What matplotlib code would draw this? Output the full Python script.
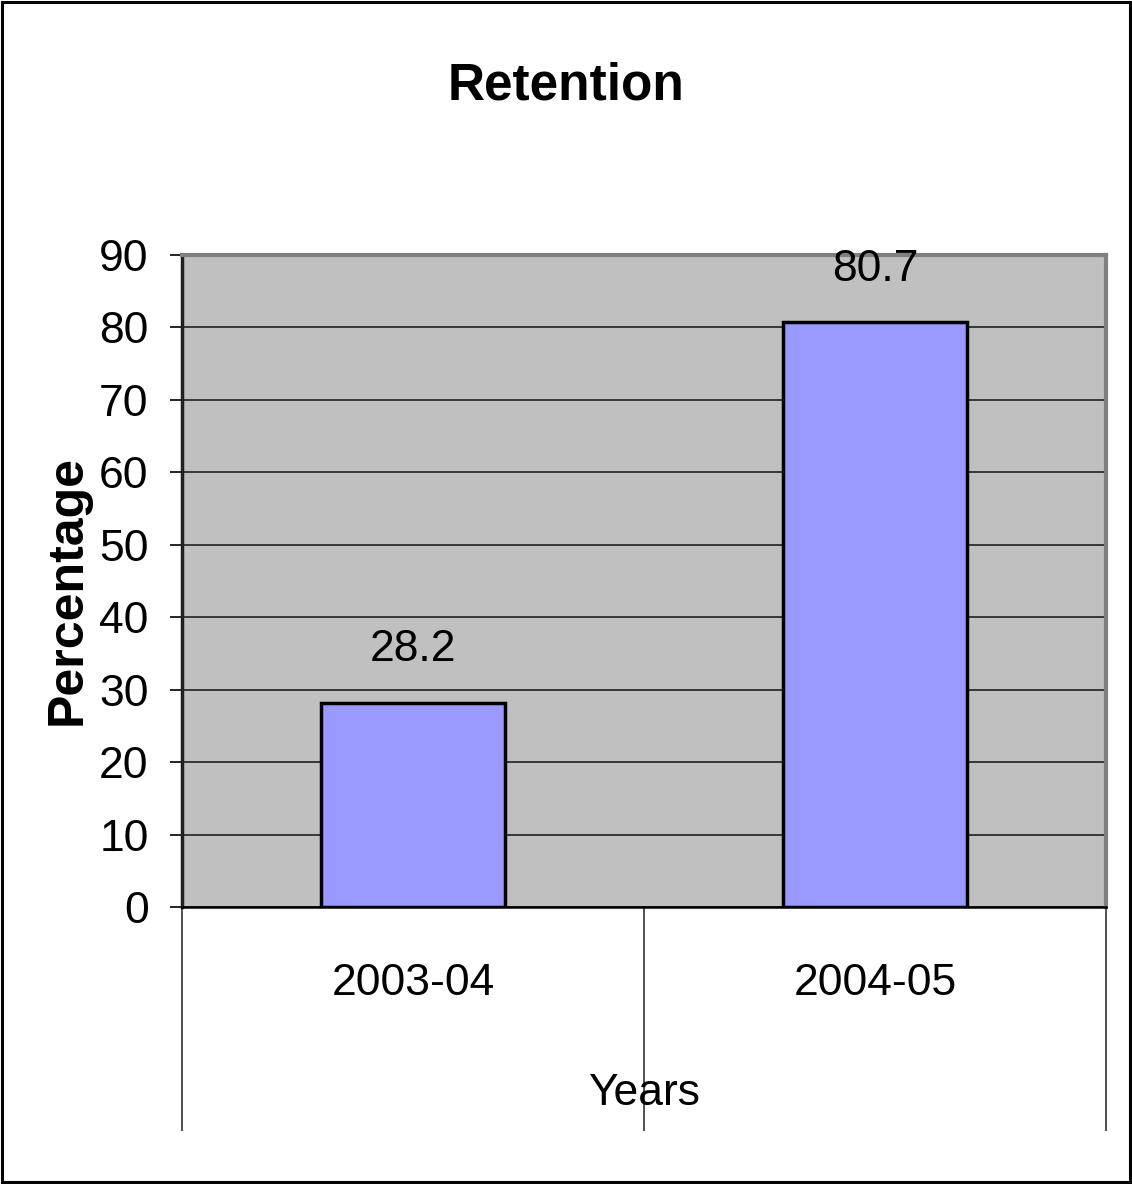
import matplotlib
matplotlib.use("Agg")
import matplotlib.pyplot as plt
from matplotlib.patches import Rectangle

# Data
years = ["2003-04", "2004-05"]
retention = [28.2, 80.7]
y_ticks = [0, 10, 20, 30, 40, 50, 60, 70, 80, 90]

FONT = ["Liberation Sans", "DejaVu Sans"]
plt.rcParams["font.family"] = FONT

W, H = 1132, 1184
fig = plt.figure(figsize=(W / 100, H / 100), dpi=100)
fig.patch.set_facecolor("white")

ax = fig.add_axes([182 / W, 1 - 907 / H, (1106 - 182) / W, (907 - 255) / H])
ax.set_facecolor("#C0C0C0")

x = list(range(len(years)))
ax.bar(x, retention, width=0.4, color="#9999FF", edgecolor="black",
       linewidth=2.5, zorder=3)

for xi, v in zip(x, retention):
    ax.text(xi, v + 4.5, f"{v}", ha="center", va="bottom", fontsize=32,
            zorder=4)

ax.set_xlim(-0.5, len(years) - 0.5)
ax.set_ylim(0, 90)
ax.set_yticks(y_ticks)
ax.set_yticklabels([str(t) for t in y_ticks])
ax.tick_params(axis="y", direction="out", length=9, width=1.2,
               color="black", labelsize=32, pad=15)
ax.yaxis.grid(True, color="#202020", linewidth=1.2, zorder=1)
ax.set_axisbelow(True)

# Category separators reaching down below the axis
ax.set_xticks([-0.5, 0.5, 1.5])
ax.set_xticklabels([])
ax.tick_params(axis="x", direction="out", length=161, width=1.1,
               color="#202020")
for xi, lab in zip(x, years):
    ax.text(xi, -10.6, lab, ha="center", va="center", fontsize=32)
ax.text(0.5, -25.8, "Years", ha="center", va="center", fontsize=32)

for side in ["top", "right"]:
    ax.spines[side].set_color("#808080")
    ax.spines[side].set_linewidth(3)
ax.spines["left"].set_color("#202020")
ax.spines["left"].set_linewidth(2.5)
ax.spines["bottom"].set_color("black")
ax.spines["bottom"].set_linewidth(1.8)

fig.text(0.5, 1 - 86 / H, "Retention", ha="center", va="center",
         fontsize=37, fontweight="bold")
fig.text(68 / W, 1 - 590 / H, "Percentage", ha="center", va="center",
         rotation=90, fontsize=36, fontweight="bold")

# Outer chart frame
fig.patches.append(Rectangle((2 / W, 2 / H), 1 - 4 / W, 1 - 4 / H,
                             transform=fig.transFigure, fill=False,
                             edgecolor="black", linewidth=2.2))

fig.savefig("out.png", dpi=100)
